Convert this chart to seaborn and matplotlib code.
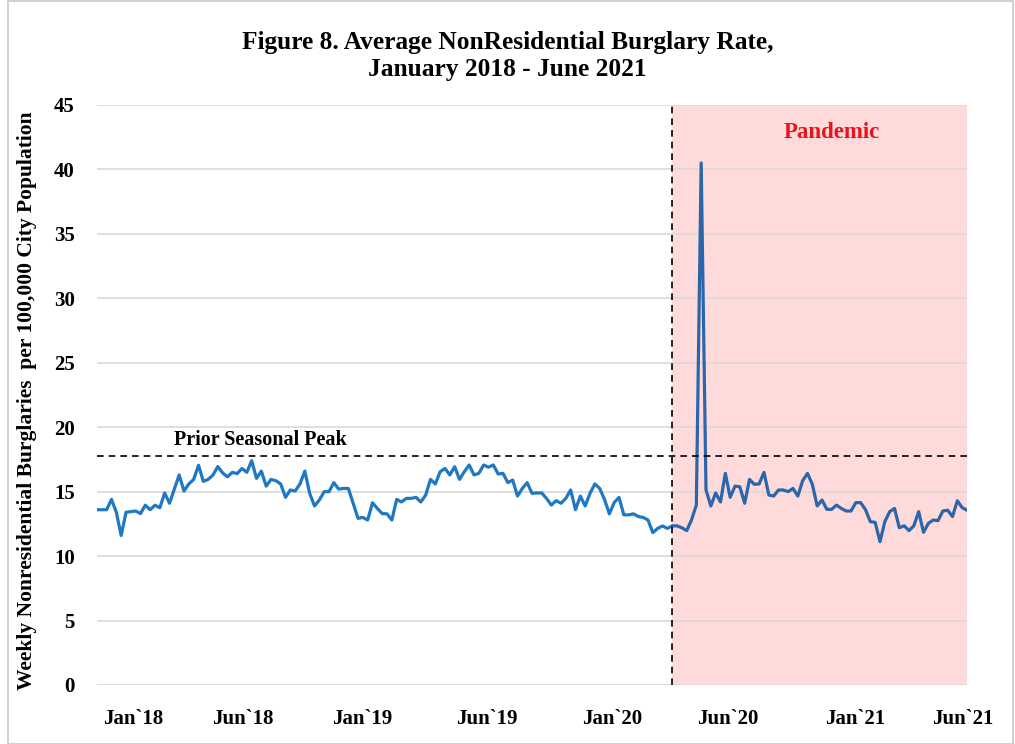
import numpy as np
import pandas as pd
import matplotlib
matplotlib.use("Agg")
import matplotlib.pyplot as plt
import seaborn as sns

# ---- data (weekly rate, Jan 2018 - Jun 2021) ----
rate_pre = [13.6, 13.6, 13.6, 14.4, 13.4, 11.6, 13.4, 13.45, 13.5, 13.3,
            13.95, 13.6, 13.95, 13.75, 14.9, 14.1, 15.2, 16.3, 15.05, 15.6,
            15.95, 17.05, 15.8, 15.95, 16.3, 16.95, 16.45, 16.15, 16.5, 16.4,
            16.8, 16.5, 17.4, 16.03, 16.6, 15.43, 15.95, 15.85, 15.6, 14.56,
            15.13, 15.05, 15.6, 16.6, 14.87, 13.89, 14.35, 15.0, 15.0, 15.7,
            15.2, 15.25, 15.25, 14.1, 12.93, 13.0, 12.8, 14.14, 13.7, 13.3,
            13.28, 12.8, 14.4, 14.2, 14.48, 14.48, 14.56, 14.2, 14.74, 15.95,
            15.6, 16.55, 16.8, 16.3, 16.94, 15.95, 16.55, 17.07, 16.3, 16.42,
            17.07, 16.9, 17.07, 16.37, 16.42, 15.7, 15.9, 14.66, 15.25, 15.7,
            14.87, 14.9, 14.9, 14.48, 13.96, 14.3, 14.1, 14.48, 15.13, 13.6,
            14.66, 13.89, 14.87, 15.6, 15.25, 14.4, 13.28, 14.15, 14.56, 13.2,
            13.2, 13.28, 13.07, 13.0, 12.8, 11.82, 12.15, 12.34, 12.15, 12.34]
rate_pandemic = [12.35, 12.2, 11.98, 12.8, 13.96, 40.5, 15.13, 13.89, 14.9, 14.2,
                 16.42, 14.56, 15.43, 15.38, 14.1, 15.95, 15.57, 15.6, 16.5, 14.74,
                 14.66, 15.13, 15.13, 15.0, 15.25, 14.66, 15.85, 16.42, 15.57, 13.89,
                 14.35, 13.63, 13.63, 13.96, 13.7, 13.5, 13.5, 14.15, 14.15, 13.6,
                 12.67, 12.62, 11.12, 12.67, 13.45, 13.7, 12.2, 12.35, 11.98, 12.35,
                 13.45, 11.85, 12.54, 12.8, 12.75, 13.5, 13.56, 13.07, 14.3, 13.76,
                 13.56]
tick_labels = ["Jan`18", "Jun`18", "Jan`19", "Jun`19", "Jan`20", "Jun`20", "Jan`21", "Jun`21"]
tick_weeks = [7.5, 30.2, 54.9, 80.7, 106.6, 130.6, 156.9, 179.1]
prior_peak = 17.75
pandemic_start_week = 119

rates = rate_pre + rate_pandemic
weeks = list(range(len(rates)))
n_pre = len(rate_pre)
df_pre = pd.DataFrame({"week": weeks[:n_pre], "rate": rate_pre})
df_pan = pd.DataFrame({"week": weeks[n_pre - 1:], "rate": rates[n_pre - 1:]})

sns.set_theme(style="white")
plt.rcParams["font.family"] = ["Liberation Serif", "DejaVu Serif"]
plt.rcParams["text.color"] = "black"
plt.rcParams["xtick.color"] = "black"
plt.rcParams["ytick.color"] = "black"
plt.rcParams["axes.labelcolor"] = "black"

fig = plt.figure(figsize=(10.15, 7.44), dpi=100)
ax = fig.add_axes([97 / 1015, 1 - 685 / 744, 870 / 1015, 580 / 744])

last_week = weeks[-1]
ax.axvspan(pandemic_start_week, last_week, color="#FFDADA", zorder=0, lw=0)
for y in range(0, 46, 5):
    ax.axhline(y, color="#D9D9D9", lw=1.2, zorder=1)

sns.lineplot(data=df_pre, x="week", y="rate", ax=ax, color="#1F78C4", lw=2.3, zorder=3)
sns.lineplot(data=df_pan, x="week", y="rate", ax=ax, color="#2C66AA", lw=2.3, zorder=3)

ax.axhline(prior_peak, color="black", lw=1.2, ls=(0, (4, 3)), zorder=4)
ax.axvline(pandemic_start_week, color="black", lw=1.2, ls=(0, (4, 3)), zorder=4)

ax.set_xlim(0, last_week)
ax.set_ylim(0, 45)
ax.set_yticks(range(0, 46, 5))
ax.set_xticks(tick_weeks)
ax.set_xticklabels(tick_labels)
for lab in ax.get_yticklabels() + ax.get_xticklabels():
    lab.set_fontweight("bold")
    lab.set_fontsize(15)
ax.tick_params(axis="y", length=0, pad=16)
ax.tick_params(axis="x", length=0, pad=17)
for s in ax.spines.values():
    s.set_visible(False)
ax.set_xlabel("")
ax.set_ylabel("Weekly Nonresidential Burglaries  per 100,000 City Population",
              fontsize=15.5, fontweight="bold")
ax.yaxis.set_label_coords(-0.069, 0.49)

ax.text(16, prior_peak + 0.45, "Prior Seasonal Peak", fontsize=14.5,
        fontweight="bold", va="bottom", ha="left")
ax.text(152, 42.9, "Pandemic", fontsize=16.5, fontweight="bold",
        color="#E8131B", ha="center", va="center")

fig.text(0.5, 1 - 56 / 744, "Figure 8. Average NonResidential Burglary Rate,\nJanuary 2018 - June 2021",
         ha="center", va="center", fontsize=18.3, fontweight="bold", linespacing=1.25)

fig.patches.append(plt.Rectangle((0.008, 0.0), 0.99, 0.999, transform=fig.transFigure,
                                 fill=False, edgecolor="#C8C8C8", lw=1.2))

fig.savefig("out.png", dpi=100)
